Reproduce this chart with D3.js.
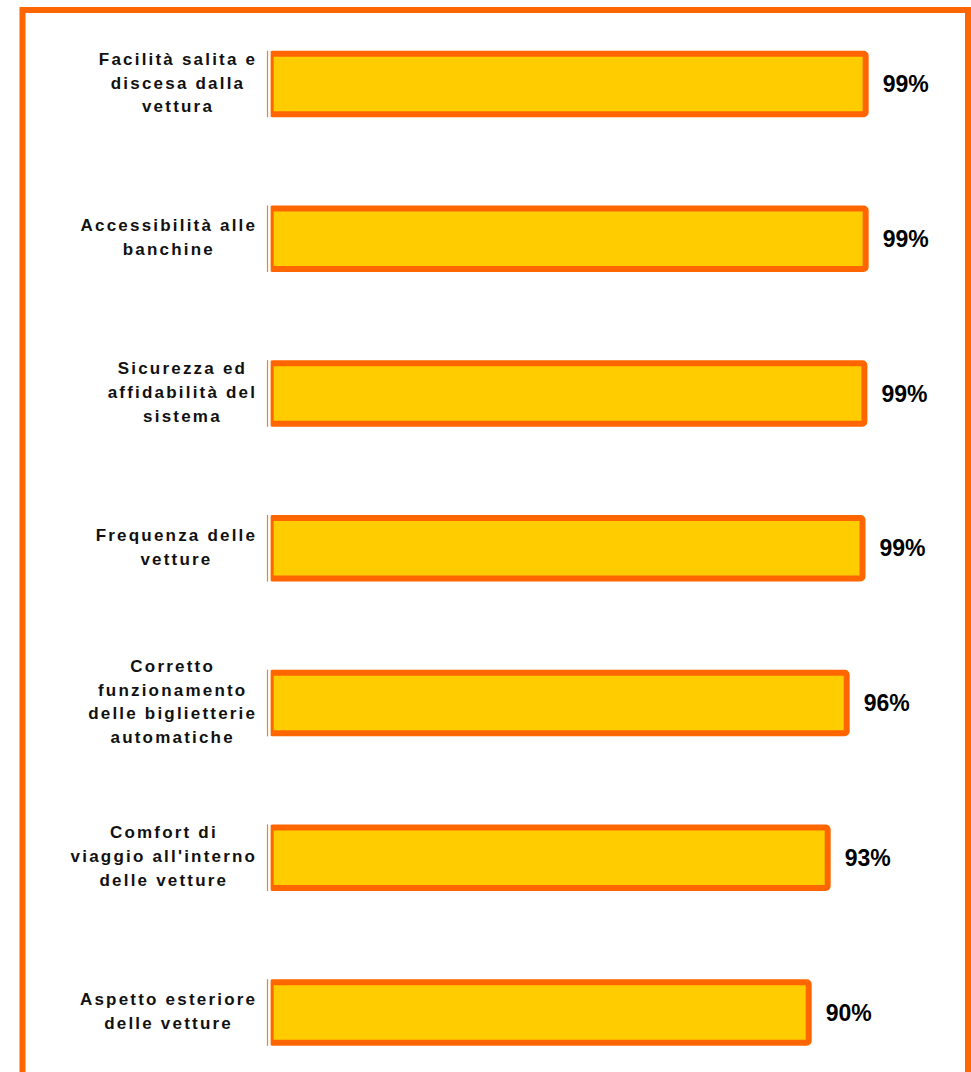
<!DOCTYPE html>
<html>
<head>
<meta charset="utf-8">
<script src="https://cdn.jsdelivr.net/npm/d3@7"></script>
<style>
  html, body { margin: 0; padding: 0; background: #fff; }
  svg { display: block; }
</style>
</head>
<body>
<script>
// ---- data ----
const categories = [
  "Facilità salita e\ndiscesa dalla\nvettura",
  "Accessibilità alle\nbanchine",
  "Sicurezza ed\naffidabilità del\nsistema",
  "Frequenza delle\nvetture",
  "Corretto\nfunzionamento\ndelle biglietterie\nautomatiche",
  "Comfort di\nviaggio all'interno\ndelle vetture",
  "Aspetto esteriore\ndelle vetture"
];
const values = [99, 99, 98.8, 98.5, 96, 93, 90];
const valueLabels = ["99%", "99%", "99%", "99%", "96%", "93%", "90%"];
const axisDomain = [5, 100];

// ---- layout ----
const W = 971, H = 1072;
const ORANGE = "#FF6600", YELLOW = "#FFCC00";

const svg = d3.select("body").append("svg")
  .attr("width", W).attr("height", H);

// frame
svg.append("rect")
  .attr("x", 22.5).attr("y", 10)
  .attr("width", 945.5).attr("height", 1100)
  .attr("fill", "none").attr("stroke", ORANGE).attr("stroke-width", 6);

const x = d3.scaleLinear().domain(axisDomain).range([270.65, 872]);
const step = 154.75;
const y = d3.scaleBand().domain(categories)
  .range([84 - step / 2, 84 + step * 6.5])
  .paddingInner(0.608).paddingOuter(0.304);

svg.append("defs").append("clipPath").attr("id", "plot")
  .append("rect").attr("x", x(axisDomain[0])).attr("y", 0)
  .attr("width", W).attr("height", H);

// axis segments
svg.append("g").selectAll("line").data(categories).join("line")
  .attr("x1", 267.5).attr("x2", 267.5)
  .attr("y1", d => y(d) - 3).attr("y2", d => y(d) + y.bandwidth() + 3)
  .attr("stroke", ORANGE).attr("stroke-width", 1.2).attr("opacity", 0.85);

// bars
svg.append("g").attr("clip-path", "url(#plot)")
  .selectAll("rect").data(categories).join("rect")
  .attr("x", x(axisDomain[0]))
  .attr("y", d => y(d))
  .attr("width", (d, i) => x(values[i]) - x(axisDomain[0]))
  .attr("height", y.bandwidth())
  .attr("rx", 2)
  .attr("fill", YELLOW).attr("stroke", ORANGE).attr("stroke-width", 6);

// value labels
svg.append("g").selectAll("text").data(categories).join("text")
  .attr("x", (d, i) => x(values[i]) + 17)
  .attr("y", d => y(d) + y.bandwidth() / 2)
  .attr("dy", "0.35em")
  .attr("font-family", "Liberation Sans, Arial, sans-serif")
  .attr("font-weight", "bold").attr("font-size", 23)
  .attr("fill", "#000")
  .text((d, i) => valueLabels[i]);

// category labels
const LS = 2.2, FS = 17, LH = 23.8, RIGHT = 255;
const catG = svg.append("g");
categories.forEach(c => {
  const lines = c.split("\n");
  const g = catG.append("g");
  const texts = lines.map(l => g.append("text")
    .attr("font-family", "Liberation Sans, Arial, sans-serif")
    .attr("font-weight", "bold").attr("font-size", FS)
    .attr("letter-spacing", LS)
    .attr("fill", "#111")
    .text(l));
  const widths = texts.map(t => t.node().getComputedTextLength() - LS);
  const boxW = d3.max(widths);
  const cy = y(c) + y.bandwidth() / 2;
  const n = lines.length;
  texts.forEach((t, i) => {
    const bl = cy + 4.5 + (i - (n - 1) / 2) * LH;
    t.attr("x", RIGHT - boxW + (boxW - widths[i]) / 2).attr("y", bl);
  });
});
</script>
</body>
</html>
